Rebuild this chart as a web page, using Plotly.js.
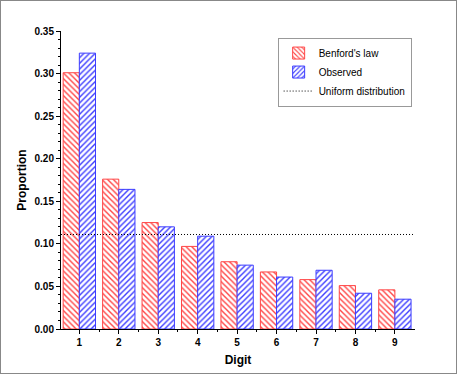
<!DOCTYPE html>
<html>
<head>
<meta charset="utf-8">
<script src="https://cdn.plot.ly/plotly-3.0.1.min.js"></script>
<style>
  html, body { margin: 0; padding: 0; background: #fff; }
  #chart { width: 457px; height: 374px; box-sizing: border-box; border: 1px solid #888; }
</style>
</head>
<body>
<div id="chart"></div>
<script>
  // values
  var digits = [1, 2, 3, 4, 5, 6, 7, 8, 9];
  var benford = [0.301, 0.176, 0.125, 0.097, 0.079, 0.067, 0.058, 0.051, 0.046];
  var observed = [0.324, 0.164, 0.120, 0.109, 0.075, 0.061, 0.069, 0.042, 0.035];
  var uniformLevel = 0.111;
  var xRange = [0.535, 9.51];

  var font = "Liberation Sans, Arial, sans-serif";

  var traces = [
    {
      type: "bar",
      name: "Benford's law",
      x: digits,
      y: benford,
      marker: {
        color: "#ffffff",
        line: { color: "rgb(255,70,70)", width: 1 },
        pattern: { shape: "\\", fgcolor: "rgb(255,70,70)", bgcolor: "#ffffff", size: 4, solidity: 0.35 },
      },
    },
    {
      type: "bar",
      name: "Observed",
      x: digits,
      y: observed,
      marker: {
        color: "#ffffff",
        line: { color: "rgb(60,60,255)", width: 1 },
        pattern: { shape: "/", fgcolor: "rgb(60,60,255)", bgcolor: "#ffffff", size: 4, solidity: 0.35 },
      },
    },
    {
      type: "scatter",
      mode: "lines",
      name: "Uniform distribution",
      x: [xRange[0], 9.6],
      y: [uniformLevel, uniformLevel],
      line: { color: "#000", width: 1, dash: "1px,2px" },
      cliponaxis: false,
    },
  ];

  var layout = {
    width: 457,
    height: 374,
    margin: { l: 60, r: 43, t: 30, b: 46 },
    paper_bgcolor: "rgba(0,0,0,0)",
    plot_bgcolor: "#fff",
    font: { family: font, size: 10, color: "#000" },
    barmode: "group",
    bargap: 0.18,
    bargroupgap: 0,
    showlegend: true,
    legend: {
      x: 0.612,
      y: 0.978,
      xanchor: "left",
      yanchor: "top",
      bordercolor: "#999",
      borderwidth: 1,
      bgcolor: "#fff",
      font: { family: font, size: 10, color: "#000" },
      tracegroupgap: 0,
      itemwidth: 30,
    },
    xaxis: {
      range: xRange,
      tickvals: digits,
      ticktext: digits.map(String),
      ticks: "outside",
      ticklen: 4,
      tickcolor: "#000",
      showline: true,
      linecolor: "#000",
      linewidth: 1,
      showgrid: false,
      zeroline: false,
      tickfont: { family: font, size: 10, weight: "bold" },
      minor: { tickvals: [1.5, 2.5, 3.5, 4.5, 5.5, 6.5, 7.5, 8.5], ticks: "outside", ticklen: 2, tickcolor: "#000" },
      title: { text: "Digit", font: { family: font, size: 12, weight: "bold" }, standoff: 8 },
    },
    yaxis: {
      range: [0, 0.35],
      dtick: 0.05,
      tickformat: ".2f",
      ticks: "outside",
      ticklen: 4,
      tickcolor: "#000",
      showline: true,
      linecolor: "#000",
      linewidth: 1,
      showgrid: false,
      zeroline: false,
      tickfont: { family: font, size: 10, weight: "bold" },
      minor: { dtick: 0.01, ticks: "outside", ticklen: 2, tickcolor: "#000", showgrid: false },
      title: { text: "Proportion", font: { family: font, size: 12, weight: "bold" }, standoff: 5 },
    },
  };

  Plotly.newPlot("chart", traces, layout, { displayModeBar: false, staticPlot: true });
</script>
</body>
</html>
